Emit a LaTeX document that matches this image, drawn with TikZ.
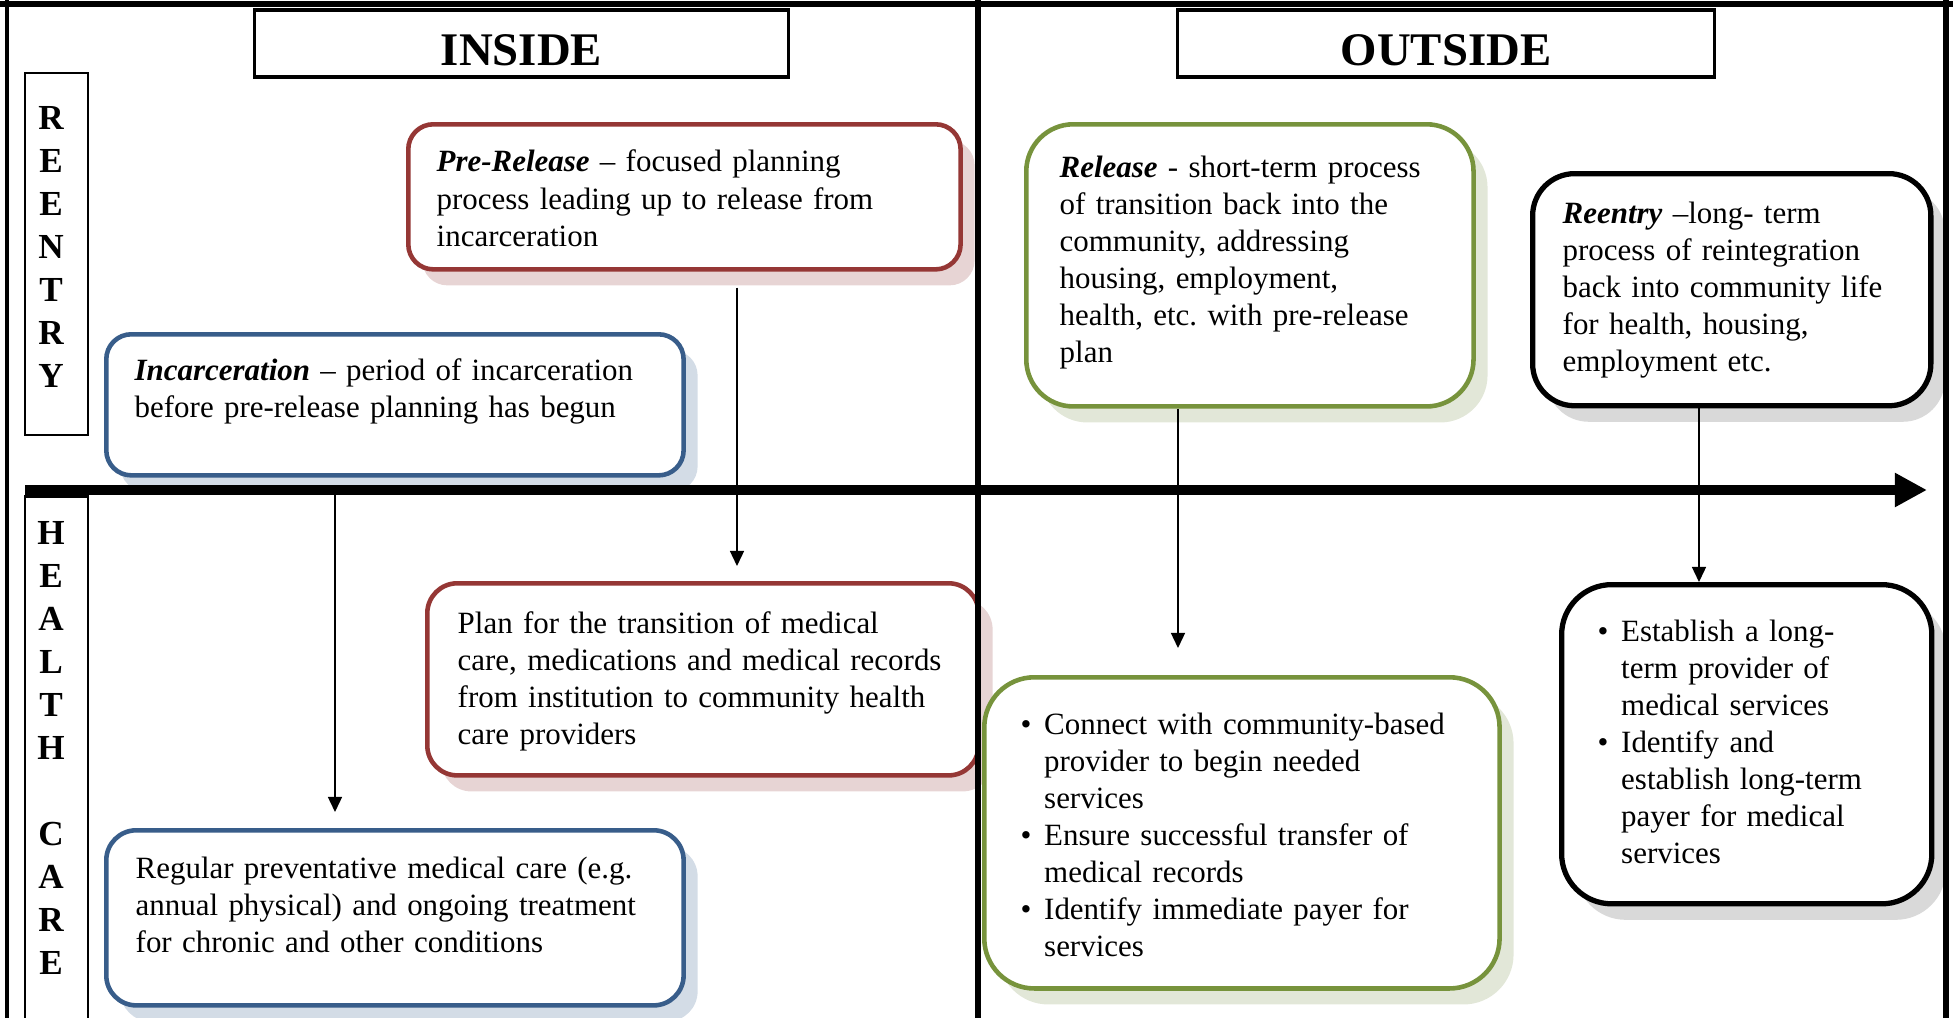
\documentclass[tikz,border=0pt]{standalone}
\usepackage{fontspec}
\setmainfont{Liberation Serif}
\usetikzlibrary{arrows.meta,shadows}
\frenchspacing

\definecolor{boxred}{RGB}{149,55,53}
\definecolor{boxblue}{RGB}{56,93,138}
\definecolor{boxgreen}{RGB}{119,147,60}
\definecolor{shadred}{RGB}{231,212,212}
\definecolor{shadblue}{RGB}{211,220,230}
\definecolor{shadgreen}{RGB}{226,231,216}
\definecolor{shadgray}{RGB}{217,217,217}

\newcommand{\bul}{\makebox[0.235cm][l]{\textbullet}}
\newcommand{\ind}{\hspace*{0.235cm}}

\begin{document}
\begin{tikzpicture}[x=0.01cm, y=-0.01cm, >=Stealth]
	\tikzstyle{headbox} = [draw, line width=0.9pt, inner sep=0pt, text height=0.43cm, text depth=0pt, font=\fontsize{13.3pt}{16pt}\selectfont\bfseries]
	\tikzstyle{sidebox} = [draw, line width=0.75pt, inner sep=0pt, minimum width=0.63cm]
	\tikzstyle{sideletters} = [anchor=north, inner sep=0pt, align=center, font=\fontsize{10pt}{12.23pt}\selectfont\bfseries]
	\tikzstyle{stagebox} = [draw, line width=1.3pt, fill=white, anchor=north west, inner sep=0pt]
	\tikzstyle{redbox} = [stagebox, draw=boxred, drop shadow={shadow xshift=0.14cm, shadow yshift=-0.16cm, opacity=1, fill=shadred}]
	\tikzstyle{bluebox} = [stagebox, draw=boxblue, drop shadow={shadow xshift=0.14cm, shadow yshift=-0.16cm, opacity=1, fill=shadblue}]
	\tikzstyle{greenbox} = [stagebox, draw=boxgreen, drop shadow={shadow xshift=0.14cm, shadow yshift=-0.16cm, opacity=1, fill=shadgreen}]
	\tikzstyle{blackbox} = [stagebox, line width=1.5pt, drop shadow={shadow xshift=0.14cm, shadow yshift=-0.16cm, opacity=1, fill=shadgray}]
	\tikzstyle{stagetext} = [anchor=base west, inner sep=0pt, text width=5.5cm, align=left, font=\fontsize{8.8pt}{10.53pt}\selectfont]
	\tikzstyle{flow} = [-{Triangle[length=0.15cm, width=0.14cm]}, line width=0.4pt]
	\tikzstyle{frame} = [line width=1.7pt]
	\tikzstyle{timeline} = [-{Triangle[length=0.32cm, width=0.32cm]}, line width=2.85pt]

	\useasboundingbox (0,0) rectangle (1953,1018);

	% headings
	\node[headbox, minimum width=5.33cm, minimum height=0.67cm] (inside) at (521.5,43.5) {INSIDE};
	\node[headbox, minimum width=5.36cm, minimum height=0.67cm] (outside) at (1446,43.5) {OUTSIDE};
	\node[sidebox, minimum height=3.62cm] (reentrySide) at (56.5,254) {};
	\node[sideletters] (reentryLetters) at (51,106) {R\\E\\E\\N\\T\\R\\Y};
	\node[sidebox, anchor=north, minimum height=5.3cm] (healthSide) at (56.5,495) {};
	\node[sideletters] (healthLetters) at (51,521) {H\\E\\A\\L\\T\\H\\\mbox{}\\C\\A\\R\\E};

	% reentry row
	\node[redbox, minimum width=5.52cm, minimum height=1.45cm, rounded corners=0.25cm] (prerel) at (406,122) {};
	\node[stagetext] (prerelT) at (436,172) {\textbf{\textit{Pre-Release}} -- focused planning\\process leading up to release from\\incarceration};
	\node[bluebox, minimum width=5.77cm, minimum height=1.41cm, rounded corners=0.25cm] (incarc) at (104,332) {};
	\node[stagetext] (incarcT) at (134,380) {\textbf{\textit{Incarceration}} -- period of incarceration\\before pre-release planning has begun};
	\node[greenbox, minimum width=4.47cm, minimum height=2.82cm, rounded corners=0.47cm] (release) at (1024,122) {};
	\node[stagetext] (releaseT) at (1059,177) {\textbf{\textit{Release}} - short-term process\\of transition back into the\\community, addressing\\housing, employment,\\health, etc. with pre-release\\plan};
	\node[blackbox, minimum width=3.98cm, minimum height=2.32cm, rounded corners=0.42cm] (reentry) at (1530,171) {};
	\node[stagetext] (reentryT) at (1562,223) {\textbf{\textit{Reentry}} --long- term\\process of reintegration\\back into community life\\for health, housing,\\employment etc.};

	% health care row
	\node[redbox, minimum width=5.51cm, minimum height=1.92cm, rounded corners=0.3cm] (plan) at (425,581) {};
	\node[stagetext] (planT) at (457,633) {Plan for the transition of medical\\care, medications and medical records\\from institution to community health\\care providers};
	\node[bluebox, minimum width=5.77cm, minimum height=1.75cm, rounded corners=0.3cm] (regular) at (104,828) {};
	\node[stagetext] (regularT) at (135,878) {Regular preventative medical care (e.g.\\annual physical) and ongoing treatment\\for chronic and other conditions};
	\node[greenbox, minimum width=5.15cm, minimum height=3.11cm, rounded corners=0.5cm] (connect) at (982,675) {};
	\node[stagetext] (connectT) at (1020,734) {\bul Connect with community-based\\\ind provider to begin needed\\\ind services\\\bul Ensure successful transfer of\\\ind medical records\\\bul Identify immediate payer for\\\ind services};
	\node[blackbox, minimum width=3.7cm, minimum height=3.19cm, rounded corners=0.5cm] (establish) at (1559,582) {};
	\node[stagetext] (establishT) at (1597,641) {\bul Establish a long-\\\ind term provider of\\\ind medical services\\\bul Identify and\\\ind establish long-term\\\ind payer for medical\\\ind services};

	% frame and time line
	\draw[frame] (0,4) -- (1953,4);
	\draw[line width=1.2pt] (7,0) -- (7,1018);
	\draw[frame] (978,0) -- (978,1018);
	\draw[frame] (1946,0) -- (1946,1018);
	\coordinate (axisL) at (25,490);
	\coordinate (axisR) at (1927,490);
	\draw[timeline] (axisL) -- (axisR);

	% links
	\coordinate (x1) at (737,0);
	\coordinate (x2) at (335,0);
	\coordinate (x3) at (1178,0);
	\coordinate (x4) at (1699,0);
	\draw[flow, shorten <=0.16cm, shorten >=0.15cm] (prerel.south -| x1) -- (plan.north -| x1);
	\draw[flow, shorten >=0.16cm] (axisL -| x2) -- (regular.north -| x2);
	\draw[flow, shorten >=0.27cm] (release.south -| x3) -- (connect.north -| x3);
	\draw[flow] (reentry.south -| x4) -- (establish.north -| x4);
\end{tikzpicture}
\end{document}
